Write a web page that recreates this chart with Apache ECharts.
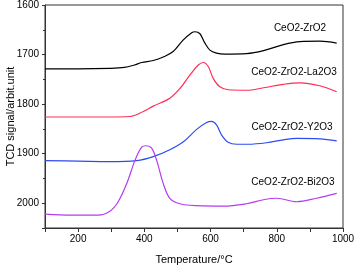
<!DOCTYPE html>
<html><head><meta charset="utf-8">
<script src="https://cdn.jsdelivr.net/npm/echarts@6/dist/echarts.min.js"></script>
<style>html,body{margin:0;padding:0;background:#fff}#c{width:356px;height:267px}</style>
</head><body><div id="c"></div>
<script>
var seriesNames = ['CeO2-ZrO2','CeO2-ZrO2-La2O3','CeO2-ZrO2-Y2O3','CeO2-ZrO2-Bi2O3'];
var colors = ['#000000','#ff2d55','#2d4bf0','#b43cf0'];
var s1 = [[100,1729],[200,1729],[296,1728],[340,1726],[370,1721],[392,1716],[427,1712],[457,1705],[487,1694],[517,1671],[543,1656],[553,1654],[568,1658],[583,1677],[598,1691],[618,1697],[643,1699],[709,1698],[760,1692],[820,1680],[870,1674],[930,1673],[981,1677]];
var s2 = [[100,1826],[200,1826],[296,1826],[357,1825],[397,1815],[427,1804],[477,1788],[508,1768],[538,1741],[563,1721],[578,1716],[593,1724],[608,1748],[628,1765],[654,1771],[709,1772],[760,1767],[820,1760],[870,1757],[930,1763],[981,1775]];
var s3 = [[100,1914],[200,1915],[296,1916],[377,1914],[427,1906],[477,1892],[518,1876],[558,1851],[588,1837],[603,1835],[618,1842],[633,1862],[653,1877],[679,1881],[714,1881],[769,1878],[820,1872],[860,1869],[930,1870],[981,1874]];
var s4 = [[100,2022],[180,2024],[260,2024],[296,2016],[321,1997],[347,1960],[372,1913],[392,1887],[405,1884],[422,1889],[437,1913],[457,1960],[477,1990],[508,2001],[558,2005],[638,2006],[709,2001],[760,1993],[800,1990],[860,1997],[920,1990],[981,1980]];
var xTicks = [200,400,600,800,1000];
var yTicks = [1600,1700,1800,1900,2000];
var labelPos = [[300,28],[294,72],[292,127],[293,182]];
var allData = [s1,s2,s3,s4];
var chart = echarts.init(document.getElementById('c'));
var font = 'Liberation Sans, Arial, sans-serif';
chart.setOption({
  animation:false,
  grid:{left:45,right:13,top:5,bottom:39,show:true,borderColor:'#333',borderWidth:1,backgroundColor:'transparent',outerBoundsMode:'none',containLabel:false},
  xAxis:{type:'value',min:100,max:1000,interval:100,
    name:'Temperature/°C',nameLocation:'middle',nameGap:26,nameMoveOverlap:false,
    nameTextStyle:{fontFamily:font,fontSize:11,color:'#000'},
    axisLine:{lineStyle:{color:'#333'}},
    axisTick:{show:true,length:4,lineStyle:{color:'#333'}},
    axisLabel:{fontFamily:font,fontSize:10,color:'#000',margin:6,
      formatter:function(v){return xTicks.indexOf(v)>=0?String(v):'';}},
    splitLine:{show:false}},
  yAxis:{type:'value',inverse:true,min:1600,max:2050,interval:100,
    name:'TCD signal/arbit.unit',nameLocation:'middle',nameGap:29,nameMoveOverlap:false,
    nameTextStyle:{fontFamily:font,fontSize:11,color:'#000'},
    axisLine:{show:true,lineStyle:{color:'#333'}},
    axisTick:{show:true,length:3,lineStyle:{color:'#333'}},
    minorTick:{show:true,splitNumber:2,length:2,lineStyle:{color:'#333'}},
    axisLabel:{fontFamily:font,fontSize:10,color:'#000',margin:6,
      formatter:function(v){return yTicks.indexOf(v)>=0?String(v):'';}},
    splitLine:{show:false}},
  series: allData.map(function(d,i){return {type:'line',name:seriesNames[i],data:d,smooth:0.35,showSymbol:false,
    lineStyle:{color:colors[i],width:1.2},itemStyle:{color:colors[i]}};}),
  graphic: seriesNames.map(function(n,i){return {type:'text',x:labelPos[i][0],y:labelPos[i][1],
    style:{text:n,fill:'#000',font:'10px '+font,textAlign:'center',textVerticalAlign:'middle'}};})
});
</script></body></html>
